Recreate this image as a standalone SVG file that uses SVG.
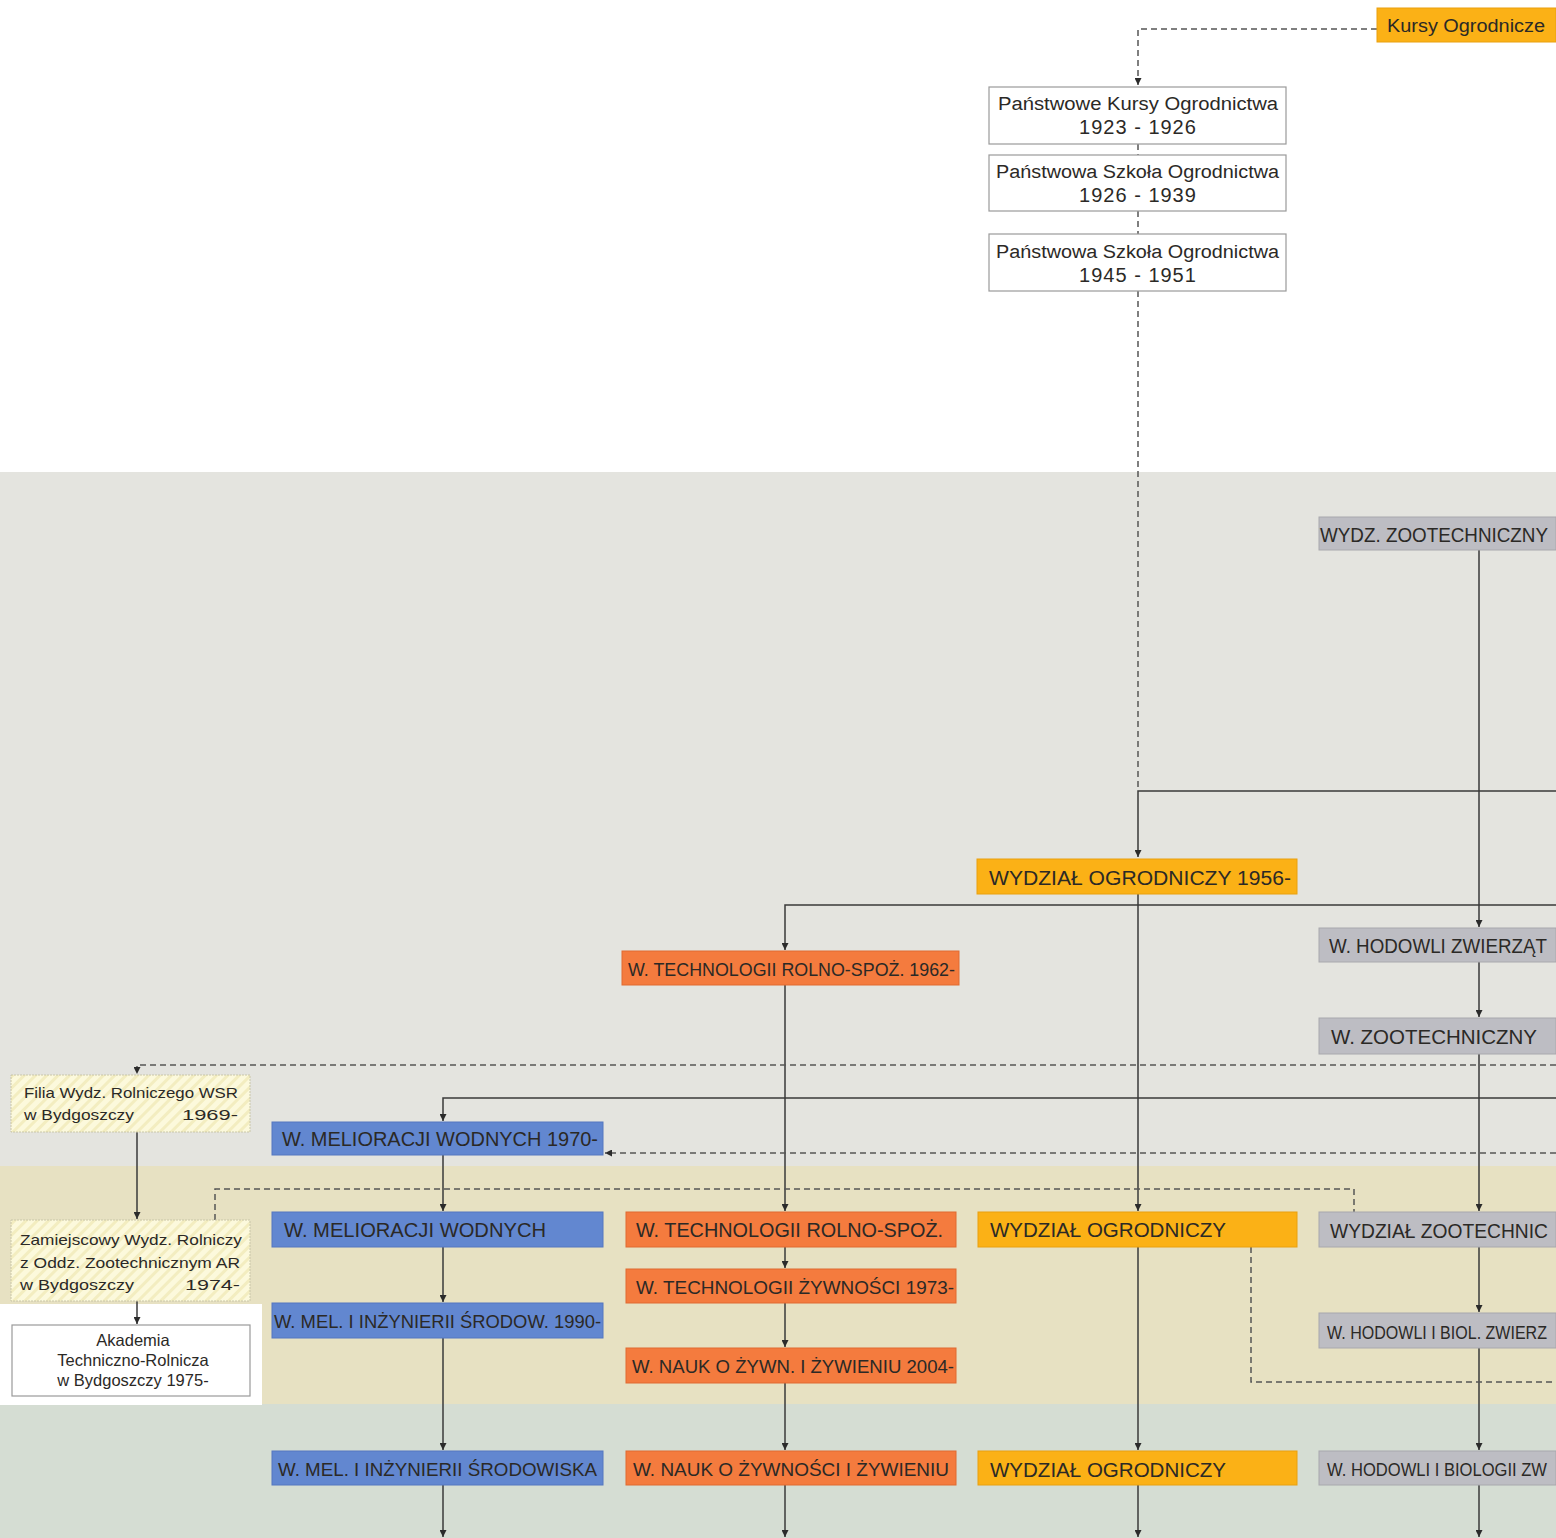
<svg xmlns="http://www.w3.org/2000/svg" width="1556" height="1538" viewBox="0 0 1556 1538">
<style>
.t{font-family:"Liberation Sans",Arial,sans-serif;fill:#2b2926}
.big{font-size:20px}
.mid{font-size:18px}
.sm{font-size:15px}
.ak{font-size:16.5px}
.orange{fill:#fbb116;stroke:#e9a00f;stroke-width:1}
.red{fill:#f47b3e;stroke:#e06a30;stroke-width:1}
.blue{fill:#6287d0;stroke:#5577c0;stroke-width:1}
.gray{fill:#bdbdc3;stroke:#a8a8ad;stroke-width:1}
.white{fill:#ffffff;stroke:#9a9a9a;stroke-width:1.2}
.hatch{fill:url(#hatch);stroke:#c9c6a8;stroke-width:1;stroke-dasharray:2 1}
.solid{fill:none;stroke:#3a3a3a;stroke-width:1.5}
.dash{fill:none;stroke:#555;stroke-width:1.5;stroke-dasharray:6 4}
</style>
<defs>
<pattern id="hatch" width="8" height="8" patternUnits="userSpaceOnUse" patternTransform="rotate(45)">
<rect width="8" height="8" fill="#fcf9dc"/>
<rect width="3" height="8" fill="#f3edc0"/>
</pattern>
<marker id="ah" viewBox="0 0 10 10" refX="10" refY="5" markerWidth="7" markerHeight="7" orient="auto" markerUnits="userSpaceOnUse">
<path d="M0,0 L10,5 L0,10 z" fill="#2b2b2b"/>
</marker>
</defs>
<!-- background bands -->
<rect x="0" y="0" width="1556" height="472" fill="#ffffff"/>
<rect x="0" y="472" width="1556" height="694" fill="#e4e4df"/>
<rect x="0" y="1166" width="1556" height="238" fill="#e7e1c2"/>
<rect x="0" y="1404" width="1556" height="134" fill="#d5ddd3"/>
<rect x="0" y="1304" width="262" height="101" fill="#ffffff"/>

<g id="connectors">
<path class="dash" d="M1377,29 H1138 V85" marker-end="url(#ah)"/>
<path class="dash" d="M1138,144 V155"/>
<path class="dash" d="M1138,211 V234"/>
<path class="dash" d="M1138,291 V791"/>
<path class="solid" d="M1556,791 H1138 V857" marker-end="url(#ah)"/>
<path class="solid" d="M1138,894 V1211" marker-end="url(#ah)"/>
<path class="solid" d="M1556,905 H785 V950" marker-end="url(#ah)"/>
<path class="solid" d="M785,985 V1211" marker-end="url(#ah)"/>
<path class="solid" d="M785,1247 V1268" marker-end="url(#ah)"/>
<path class="solid" d="M785,1303 V1347" marker-end="url(#ah)"/>
<path class="solid" d="M785,1383 V1450" marker-end="url(#ah)"/>
<path class="solid" d="M785,1485 V1537" marker-end="url(#ah)"/>
<path class="solid" d="M1479,550 V927" marker-end="url(#ah)"/>
<path class="solid" d="M1479,962 V1017" marker-end="url(#ah)"/>
<path class="solid" d="M1479,1054 V1211" marker-end="url(#ah)"/>
<path class="solid" d="M1479,1247 V1312" marker-end="url(#ah)"/>
<path class="solid" d="M1479,1348 V1450" marker-end="url(#ah)"/>
<path class="solid" d="M1479,1485 V1537" marker-end="url(#ah)"/>
<path class="dash" d="M1556,1065 H137 V1074" marker-end="url(#ah)"/>
<path class="solid" d="M1556,1098 H443 V1121" marker-end="url(#ah)"/>
<path class="dash" d="M1556,1153 H605" marker-end="url(#ah)"/>
<path class="solid" d="M443,1155 V1211" marker-end="url(#ah)"/>
<path class="solid" d="M443,1247 V1302" marker-end="url(#ah)"/>
<path class="solid" d="M443,1338 V1450" marker-end="url(#ah)"/>
<path class="solid" d="M443,1485 V1537" marker-end="url(#ah)"/>
<path class="dash" d="M215,1220 V1189 H1354 V1212"/>
<path class="solid" d="M137,1132 V1219" marker-end="url(#ah)"/>
<path class="solid" d="M137,1301 V1324" marker-end="url(#ah)"/>
<path class="dash" d="M1251,1247 V1382 H1556"/>
<path class="solid" d="M1138,1247 V1450" marker-end="url(#ah)"/>
<path class="solid" d="M1138,1485 V1537" marker-end="url(#ah)"/>
</g>

<g id="kursy-ogrodnicze"><rect class="orange" x="1377" y="8" width="179" height="34"/>
<text class="t mid" x="1387" y="32" textLength="158" lengthAdjust="spacingAndGlyphs">Kursy Ogrodnicze</text></g>

<g id="pko-1923"><rect class="white" x="989" y="87" width="297" height="57"/>
<text class="t mid" x="998" y="110" textLength="280" lengthAdjust="spacingAndGlyphs">Państwowe Kursy Ogrodnictwa</text>
<text class="t big" x="1138" y="134" text-anchor="middle" letter-spacing="1">1923 - 1926</text></g>

<g id="pso-1926"><rect class="white" x="989" y="155" width="297" height="56"/>
<text class="t mid" x="996" y="178" textLength="283" lengthAdjust="spacingAndGlyphs">Państwowa Szkoła Ogrodnictwa</text>
<text class="t big" x="1138" y="202" text-anchor="middle" letter-spacing="1">1926 - 1939</text></g>

<g id="pso-1945"><rect class="white" x="989" y="234" width="297" height="57"/>
<text class="t mid" x="996" y="258" textLength="283" lengthAdjust="spacingAndGlyphs">Państwowa Szkoła Ogrodnictwa</text>
<text class="t big" x="1138" y="282" text-anchor="middle" letter-spacing="1">1945 - 1951</text></g>

<g id="wydz-zootech"><rect class="gray" x="1319" y="517" width="237" height="33"/>
<text class="t big" x="1320" y="542" textLength="228" lengthAdjust="spacingAndGlyphs">WYDZ. ZOOTECHNICZNY</text></g>

<g id="wo-1956"><rect class="orange" x="977" y="859" width="320" height="35"/>
<text class="t big" x="989" y="885" textLength="302" lengthAdjust="spacingAndGlyphs">WYDZIAŁ OGRODNICZY 1956-</text></g>

<g id="wtrs-1962"><rect class="red" x="622" y="951" width="337" height="34"/>
<text class="t mid" x="628" y="976" textLength="327" lengthAdjust="spacingAndGlyphs">W. TECHNOLOGII ROLNO-SPOŻ. 1962-</text></g>

<g id="whz"><rect class="gray" x="1319" y="928" width="237" height="34"/>
<text class="t big" x="1329" y="953" textLength="218" lengthAdjust="spacingAndGlyphs">W. HODOWLI ZWIERZĄT</text></g>

<g id="wz"><rect class="gray" x="1319" y="1018" width="237" height="36"/>
<text class="t big" x="1331" y="1044" textLength="206" lengthAdjust="spacingAndGlyphs">W.  ZOOTECHNICZNY</text></g>

<g id="filia"><rect class="hatch" x="11" y="1075" width="239" height="57"/>
<text class="t sm" x="24" y="1098" textLength="214" lengthAdjust="spacingAndGlyphs">Filia Wydz. Rolniczego WSR</text>
<text class="t sm" x="24" y="1120" textLength="110" lengthAdjust="spacingAndGlyphs">w Bydgoszczy</text>
<text class="t sm" x="182" y="1120" textLength="56" lengthAdjust="spacingAndGlyphs">1969-</text></g>

<g id="wmw-1970"><rect class="blue" x="272" y="1122" width="331" height="33"/>
<text class="t big" x="282" y="1146" textLength="316" lengthAdjust="spacingAndGlyphs">W. MELIORACJI WODNYCH 1970-</text></g>

<g id="zamiejscowy"><rect class="hatch" x="11" y="1220" width="239" height="81"/>
<text class="t sm" x="20" y="1245" textLength="222" lengthAdjust="spacingAndGlyphs">Zamiejscowy Wydz. Rolniczy</text>
<text class="t sm" x="20" y="1268" textLength="220" lengthAdjust="spacingAndGlyphs">z Oddz. Zootechnicznym AR</text>
<text class="t sm" x="20" y="1290" textLength="114" lengthAdjust="spacingAndGlyphs">w Bydgoszczy</text>
<text class="t sm" x="185" y="1290" textLength="55" lengthAdjust="spacingAndGlyphs">1974-</text></g>

<g id="akademia"><rect class="white" x="12" y="1325" width="238" height="71"/>
<text class="t ak" x="133" y="1346" text-anchor="middle">Akademia</text>
<text class="t ak" x="133" y="1366" text-anchor="middle">Techniczno-Rolnicza</text>
<text class="t ak" x="133" y="1386" text-anchor="middle">w Bydgoszczy  1975-</text></g>

<g id="wmw"><rect class="blue" x="272" y="1212" width="331" height="35"/>
<text class="t big" x="284" y="1237" textLength="262" lengthAdjust="spacingAndGlyphs">W. MELIORACJI WODNYCH</text></g>

<g id="wtrs"><rect class="red" x="626" y="1212" width="330" height="35"/>
<text class="t big" x="636" y="1237" textLength="307" lengthAdjust="spacingAndGlyphs">W. TECHNOLOGII ROLNO-SPOŻ.</text></g>

<g id="wo"><rect class="orange" x="978" y="1212" width="319" height="35"/>
<text class="t big" x="990" y="1237" textLength="236" lengthAdjust="spacingAndGlyphs">WYDZIAŁ OGRODNICZY</text></g>

<g id="wzoo"><rect class="gray" x="1319" y="1212" width="237" height="35"/>
<text class="t big" x="1330" y="1238" textLength="218" lengthAdjust="spacingAndGlyphs">WYDZIAŁ  ZOOTECHNIC</text></g>

<g id="wtz-1973"><rect class="red" x="626" y="1269" width="330" height="34"/>
<text class="t mid" x="636" y="1294" textLength="318" lengthAdjust="spacingAndGlyphs">W. TECHNOLOGII ŻYWNOŚCI 1973-</text></g>

<g id="wmis-1990"><rect class="blue" x="272" y="1303" width="331" height="35"/>
<text class="t mid" x="274" y="1328" textLength="327" lengthAdjust="spacingAndGlyphs">W. MEL. I INŻYNIERII ŚRODOW. 1990-</text></g>

<g id="whbz"><rect class="gray" x="1319" y="1313" width="237" height="35"/>
<text class="t mid" x="1327" y="1339" textLength="220" lengthAdjust="spacingAndGlyphs">W. HODOWLI I BIOL. ZWIERZ</text></g>

<g id="wnz-2004"><rect class="red" x="626" y="1348" width="330" height="35"/>
<text class="t mid" x="632" y="1373" textLength="322" lengthAdjust="spacingAndGlyphs">W. NAUK O ŻYWN. I ŻYWIENIU 2004-</text></g>

<g id="wmis"><rect class="blue" x="272" y="1451" width="331" height="34"/>
<text class="t mid" x="278" y="1476" textLength="319" lengthAdjust="spacingAndGlyphs">W. MEL. I INŻYNIERII ŚRODOWISKA</text></g>

<g id="wnzz"><rect class="red" x="626" y="1451" width="330" height="34"/>
<text class="t mid" x="633" y="1476" textLength="316" lengthAdjust="spacingAndGlyphs">W. NAUK O ŻYWNOŚCI I ŻYWIENIU</text></g>

<g id="wo-2"><rect class="orange" x="978" y="1451" width="319" height="34"/>
<text class="t big" x="990" y="1477" textLength="236" lengthAdjust="spacingAndGlyphs">WYDZIAŁ OGRODNICZY</text></g>

<g id="whbz-2"><rect class="gray" x="1319" y="1451" width="237" height="34"/>
<text class="t mid" x="1327" y="1476" textLength="220" lengthAdjust="spacingAndGlyphs">W. HODOWLI I BIOLOGII ZW</text></g>
</svg>
